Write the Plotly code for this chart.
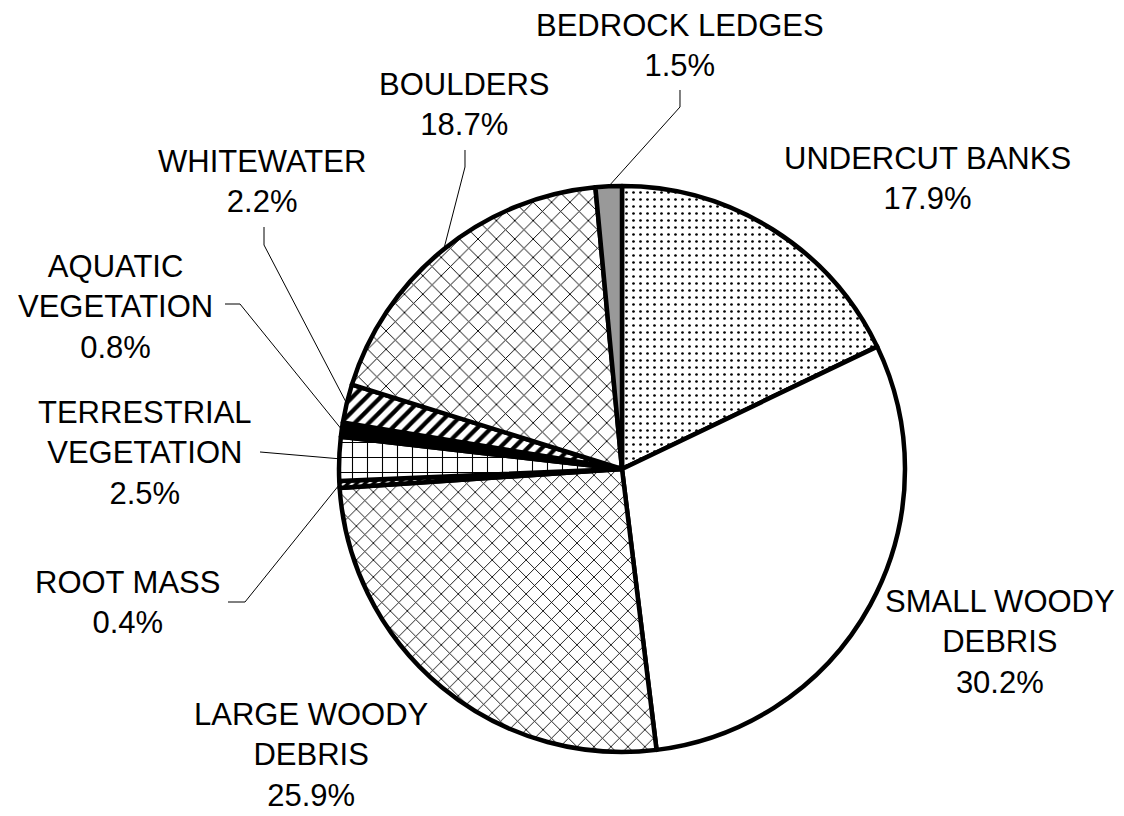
import math
import plotly.graph_objects as go

W, H = 1124, 816

# Habitat categories, clockwise from 12 o'clock
categories = [
    "UNDERCUT BANKS",
    "SMALL WOODY DEBRIS",
    "LARGE WOODY DEBRIS",
    "ROOT MASS",
    "TERRESTRIAL VEGETATION",
    "AQUATIC VEGETATION",
    "WHITEWATER",
    "BOULDERS",
    "BEDROCK LEDGES",
]
percent = [17.9, 30.2, 25.9, 0.4, 2.5, 0.8, 2.2, 18.7, 1.5]
label_lines = [
    ["UNDERCUT BANKS"],
    ["SMALL WOODY", "DEBRIS"],
    ["LARGE WOODY", "DEBRIS"],
    ["ROOT MASS"],
    ["TERRESTRIAL", "VEGETATION"],
    ["AQUATIC", "VEGETATION"],
    ["WHITEWATER"],
    ["BOULDERS"],
    ["BEDROCK LEDGES"],
]

# Fill styles per slice: (shape, fg, bg, size, solidity)
fills = [
    (".", "#000000", "#ffffff", 7, 0.12),
    ("", "#ffffff", "#ffffff", 8, 0.2),
    ("x", "#000000", "#ffffff", 12, 0.14),
    ("/", "#000000", "#ffffff", 6, 0.6),
    ("+", "#000000", "#ffffff", 15, 0.14),
    ("", "#000000", "#000000", 8, 0.2),
    ("/", "#000000", "#ffffff", 10, 0.42),
    ("x", "#000000", "#ffffff", 13, 0.14),
    ("", "#999999", "#999999", 8, 0.2),
]

# Pie geometry in pixels
CX, CY, R = 622, 469, 283

# Label anchor (centre of text block) and leader bend points, in pixels
label_pos = [
    (927, 178), (1000, 642), (311, 755), (127, 602), (145, 453),
    (115, 307), (262, 181), (465, 105), (680, 45),
]
leader_pts = [
    None, None, None,
    [(228, 602), (245, 602)],
    [(260, 452)],
    [(225, 304), (240, 304)],
    [(264, 227), (264, 245)],
    [(465, 150), (465, 167)],
    [(680, 90), (680, 107)],
]

fig = go.Figure()
fig.add_trace(go.Pie(
    labels=categories,
    values=percent,
    sort=False,
    direction="clockwise",
    rotation=0,
    textinfo="none",
    hoverinfo="label+percent",
    showlegend=False,
    marker=dict(
        colors=[f[2] for f in fills],
        line=dict(color="#000000", width=4.5),
        pattern=dict(
            shape=[f[0] for f in fills],
            fgcolor=[f[1] for f in fills],
            bgcolor=[f[2] for f in fills],
            size=[f[3] for f in fills],
            solidity=[f[4] for f in fills],
            fillmode="replace",
        ),
    ),
    domain=dict(
        x=[(CX - R) / W, (CX + R) / W],
        y=[(H - CY - R) / H, (H - CY + R) / H],
    ),
))


def px(x):
    return x / W


def py(y):
    return 1 - y / H


total = sum(percent)
cum = 0.0
annotations = []
shapes = []
for name_lines, v, pos, pts in zip(label_lines, percent, label_pos, leader_pts):
    mid = (cum + v / 2) / total * 2 * math.pi
    cum += v
    text = "<br>".join(name_lines + [f"{v}%"])
    annotations.append(dict(
        x=px(pos[0]), y=py(pos[1]), xref="paper", yref="paper",
        text=text, showarrow=False, xanchor="center", yanchor="middle",
        align="center", borderpad=0,
        font=dict(family="Liberation Sans, Arial, sans-serif", size=31, color="#000000"),
    ))
    if pts:
        ex = CX + R * math.sin(mid)
        ey = CY - R * math.cos(mid)
        path_pts = list(pts) + [(ex, ey)]
        d = "M " + " L ".join(f"{px(x):.5f} {py(y):.5f}" for x, y in path_pts)
        shapes.append(dict(
            type="path", path=d, xref="paper", yref="paper",
            line=dict(color="#000000", width=1),
        ))

fig.update_layout(
    width=W, height=H,
    margin=dict(l=0, r=0, t=0, b=0),
    paper_bgcolor="#ffffff",
    plot_bgcolor="#ffffff",
    annotations=annotations,
    shapes=shapes,
)

fig.write_html("out.html")
